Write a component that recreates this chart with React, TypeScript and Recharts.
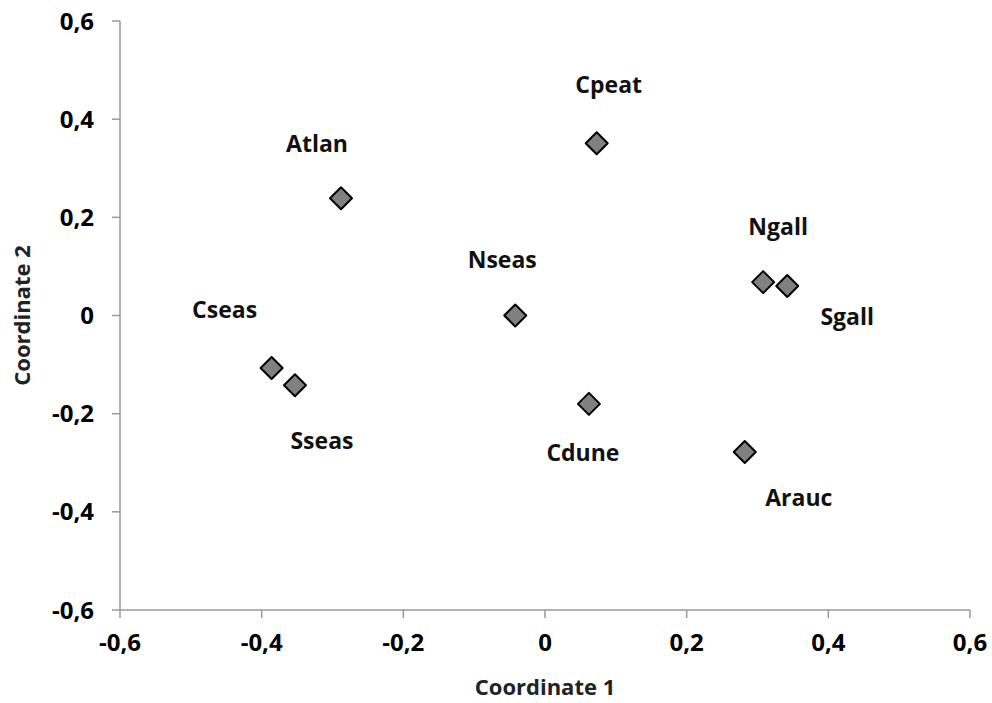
import React from 'react';
import { ScatterChart, Scatter, XAxis, YAxis, Label } from 'recharts';

const sites = ['Cpeat', 'Atlan', 'Nseas', 'Ngall', 'Sgall', 'Cseas', 'Sseas', 'Cdune', 'Arauc'];
const coord1 = [0.073, -0.288, -0.042, 0.308, 0.342, -0.386, -0.353, 0.062, 0.282];
const coord2 = [0.351, 0.239, 0.0, 0.068, 0.06, -0.107, -0.142, -0.18, -0.278];
const ticks = [-0.6, -0.4, -0.2, 0, 0.2, 0.4, 0.6];

// where each name sits relative to its marker (px)
const labelOffset: Record<string, [number, number]> = {
    Cpeat: [12, -59],
    Atlan: [-24, -55],
    Nseas: [-13, -57],
    Ngall: [15, -56],
    Sgall: [60, 30],
    Cseas: [-47, -59],
    Sseas: [27, 55],
    Cdune: [-6, 48],
    Arauc: [54, 45],
};

const data = sites.map((name, i) => ({ name, x: coord1[i], y: coord2[i] }));

const font = '"Open Sans", sans-serif';
const fmt = (v: number) => (v === 0 ? '0' : v.toFixed(1).replace('.', ','));

const Diamond = (props: any) => {
    const { cx, cy, payload } = props;
    const r = 11;
    const [dx, dy] = labelOffset[payload.name] || [0, -50];
    return (
        <g>
            <path
                d={`M${cx},${cy - r} L${cx + r},${cy} L${cx},${cy + r} L${cx - r},${cy} Z`}
                fill="#808080"
                stroke="#000"
                strokeWidth={2}
                strokeLinejoin="round"
            />
            <text
                x={cx + dx}
                y={cy + dy}
                textAnchor="middle"
                dominantBaseline="central"
                fontFamily={font}
                fontWeight={700}
                fontSize={23}
                fill="#111"
            >
                {payload.name}
            </text>
        </g>
    );
};

export default function App() {
    return (
        <div style={{ position: 'absolute', left: 0, top: 0, width: 992, height: 703, background: '#fff' }}>
            <ScatterChart width={992} height={703} margin={{ top: 21, right: 22, left: 60, bottom: 33 }}>
                <XAxis
                    type="number"
                    dataKey="x"
                    domain={[-0.6, 0.6]}
                    ticks={ticks}
                    tickFormatter={fmt}
                    height={60}
                    stroke="#999"
                    strokeWidth={1.5}
                    tickSize={8}
                    tickMargin={16}
                    tick={{ fill: '#000', fontSize: 24, fontWeight: 700, fontFamily: font }}
                >
                    <Label
                        value="Coordinate 1"
                        position="bottom"
                        offset={9}
                        style={{ fill: '#222', fontSize: 22, fontWeight: 700, fontFamily: font }}
                    />
                </XAxis>
                <YAxis
                    type="number"
                    dataKey="y"
                    domain={[-0.6, 0.6]}
                    ticks={ticks}
                    tickFormatter={fmt}
                    width={60}
                    stroke="#999"
                    strokeWidth={1.5}
                    tickSize={8}
                    tickMargin={18}
                    tick={{ fill: '#000', fontSize: 24, fontWeight: 700, fontFamily: font }}
                >
                    <Label
                        value="Coordinate 2"
                        angle={-90}
                        position="left"
                        offset={38}
                        style={{ fill: '#222', fontSize: 22, fontWeight: 700, fontFamily: font, textAnchor: 'middle' }}
                    />
                </YAxis>
                <Scatter data={data} shape={Diamond} isAnimationActive={false} />
            </ScatterChart>
        </div>
    );
}
